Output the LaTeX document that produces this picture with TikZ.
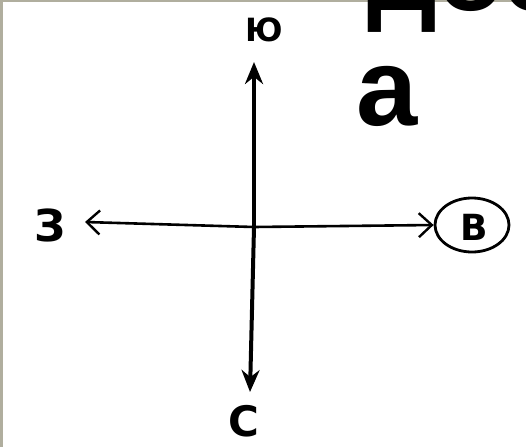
\documentclass[tikz,border=0pt]{standalone}
\usepackage{fontspec}
\setmainfont{Liberation Sans}
\newfontfamily\handfont{DejaVu Sans}
\usetikzlibrary{arrows.meta,shapes.geometric}
\definecolor{slideframe}{HTML}{B0AE9E}

\begin{document}
\begin{tikzpicture}[x=1pt,y=-1pt,
  handlabel/.style={inner sep=0pt, font=\handfont\bfseries\fontsize{#1}{#1}\selectfont},
  titletext/.style={inner sep=0pt, anchor=base west, font=\fontsize{110}{116}\selectfont\bfseries},
  vaxis/.style={line width=4pt, -{Stealth[length=22pt,width=18pt]}},
  haxis/.style={line width=2.6pt, -{Straight Barb[length=13pt,width=24pt,line width=2.4pt]}}]
\useasboundingbox (0,0) rectangle (526,447);
\fill[white] (0,0) rectangle (526,447);

% Slide frame
\fill[slideframe] (0,0) rectangle (3,447);
\fill[slideframe] (0,0) rectangle (526,2);

% Title, cut off by the slide
\begin{scope}
\clip (0,0) rectangle (526,447);
\node[titletext] (title1) at (367,10) {дос};
\node[titletext] (title2) at (356,125) {а};
\end{scope}

% Directions
\coordinate (o) at (254,227);
\coordinate (ntip) at (254,62);
\coordinate (stip) at (250,392);
\coordinate (wtip) at (85,222);

\node[handlabel=32] (yu) at (264,30) {Ю};
\node[handlabel=42] (es) at (244,421) {С};
\node[handlabel=44] (ze) at (50,225) {З};
\node[draw, ellipse, line width=2.8pt, minimum width=74pt, minimum height=54pt,
  inner sep=0pt] (ve) at (472,225) {};
\node[handlabel=36] (velabel) at (474,227) {В};

\draw[vaxis] (o) -- (ntip);
\draw[vaxis] (o) -- (stip);
\draw[haxis] (o) -- (wtip);
\draw[haxis] (o) -- (ve.west);
\end{tikzpicture}
\end{document}
